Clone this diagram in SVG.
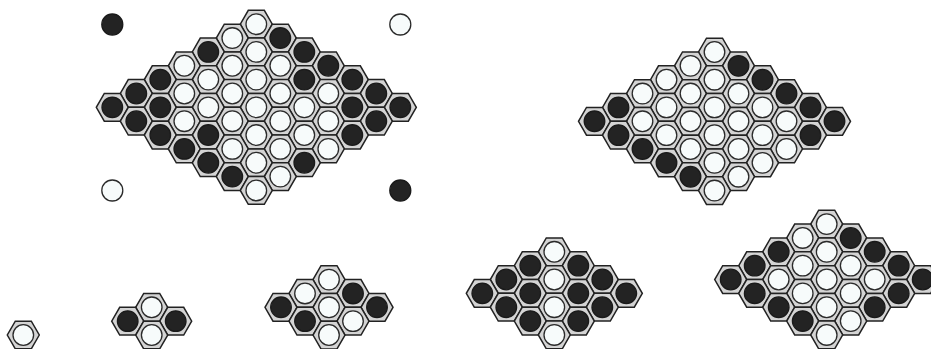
<svg xmlns="http://www.w3.org/2000/svg" xmlns:xlink="http://www.w3.org/1999/xlink" width="931" height="349" viewBox="0 0 931 349">
<style>
.hex{fill:#d4d4d4;stroke:#222;stroke-width:1.5;stroke-linejoin:miter}
.w{fill:#f7fbfb;stroke:#2a2a2a;stroke-width:1.3}
.b{fill:#232323;stroke:#1a1a1a;stroke-width:1.3}
</style>
<defs>
<g id="W"><polygon class="hex" points="16,0 8,13.86 -8,13.86 -16,0 -8,-13.86 8,-13.86"/><circle class="w" r="10.3"/></g>
<g id="B"><polygon class="hex" points="16,0 8,13.86 -8,13.86 -16,0 -8,-13.86 8,-13.86"/><circle class="b" r="10.3"/></g>
</defs>
<rect width="931" height="349" fill="#fff"/>
<g id="markers">
<g id="mark-tl"><circle class="b" cx="112.3" cy="24.5" r="10.5"/></g>
<g id="mark-tr"><circle class="w" cx="400.3" cy="24.5" r="10.5"/></g>
<g id="mark-bl"><circle class="w" cx="112.3" cy="190.5" r="10.5"/></g>
<g id="mark-br"><circle class="b" cx="400.3" cy="190.5" r="10.5"/></g>
</g>
<g id="boardA" transform="translate(256.3,24.2)">
<g id="A-0-0"><use href="#W" x="0" y="0"/></g>
<g id="A-1-0"><use href="#W" x="-24" y="13.86"/></g>
<g id="A-0-1"><use href="#B" x="24" y="13.86"/></g>
<g id="A-2-0"><use href="#B" x="-48" y="27.71"/></g>
<g id="A-1-1"><use href="#W" x="0" y="27.71"/></g>
<g id="A-0-2"><use href="#B" x="48" y="27.71"/></g>
<g id="A-3-0"><use href="#W" x="-72" y="41.57"/></g>
<g id="A-2-1"><use href="#W" x="-24" y="41.57"/></g>
<g id="A-1-2"><use href="#W" x="24" y="41.57"/></g>
<g id="A-0-3"><use href="#B" x="72" y="41.57"/></g>
<g id="A-4-0"><use href="#B" x="-96" y="55.42"/></g>
<g id="A-3-1"><use href="#W" x="-48" y="55.42"/></g>
<g id="A-2-2"><use href="#W" x="0" y="55.42"/></g>
<g id="A-1-3"><use href="#B" x="48" y="55.42"/></g>
<g id="A-0-4"><use href="#B" x="96" y="55.42"/></g>
<g id="A-5-0"><use href="#B" x="-120" y="69.28"/></g>
<g id="A-4-1"><use href="#W" x="-72" y="69.28"/></g>
<g id="A-3-2"><use href="#W" x="-24" y="69.28"/></g>
<g id="A-2-3"><use href="#W" x="24" y="69.28"/></g>
<g id="A-1-4"><use href="#W" x="72" y="69.28"/></g>
<g id="A-0-5"><use href="#B" x="120" y="69.28"/></g>
<g id="A-6-0"><use href="#B" x="-144" y="83.14"/></g>
<g id="A-5-1"><use href="#B" x="-96" y="83.14"/></g>
<g id="A-4-2"><use href="#W" x="-48" y="83.14"/></g>
<g id="A-3-3"><use href="#W" x="0" y="83.14"/></g>
<g id="A-2-4"><use href="#W" x="48" y="83.14"/></g>
<g id="A-1-5"><use href="#B" x="96" y="83.14"/></g>
<g id="A-0-6"><use href="#B" x="144" y="83.14"/></g>
<g id="A-6-1"><use href="#B" x="-120" y="96.99"/></g>
<g id="A-5-2"><use href="#W" x="-72" y="96.99"/></g>
<g id="A-4-3"><use href="#W" x="-24" y="96.99"/></g>
<g id="A-3-4"><use href="#W" x="24" y="96.99"/></g>
<g id="A-2-5"><use href="#W" x="72" y="96.99"/></g>
<g id="A-1-6"><use href="#B" x="120" y="96.99"/></g>
<g id="A-6-2"><use href="#B" x="-96" y="110.85"/></g>
<g id="A-5-3"><use href="#B" x="-48" y="110.85"/></g>
<g id="A-4-4"><use href="#W" x="0" y="110.85"/></g>
<g id="A-3-5"><use href="#W" x="48" y="110.85"/></g>
<g id="A-2-6"><use href="#B" x="96" y="110.85"/></g>
<g id="A-6-3"><use href="#B" x="-72" y="124.7"/></g>
<g id="A-5-4"><use href="#W" x="-24" y="124.7"/></g>
<g id="A-4-5"><use href="#W" x="24" y="124.7"/></g>
<g id="A-3-6"><use href="#W" x="72" y="124.7"/></g>
<g id="A-6-4"><use href="#B" x="-48" y="138.56"/></g>
<g id="A-5-5"><use href="#W" x="0" y="138.56"/></g>
<g id="A-4-6"><use href="#B" x="48" y="138.56"/></g>
<g id="A-6-5"><use href="#B" x="-24" y="152.42"/></g>
<g id="A-5-6"><use href="#W" x="24" y="152.42"/></g>
<g id="A-6-6"><use href="#W" x="0" y="166.27"/></g>
</g>
<g id="boardB" transform="translate(714.5,52)">
<g id="B-0-0"><use href="#W" x="0" y="0"/></g>
<g id="B-1-0"><use href="#W" x="-24" y="13.86"/></g>
<g id="B-0-1"><use href="#B" x="24" y="13.86"/></g>
<g id="B-2-0"><use href="#W" x="-48" y="27.71"/></g>
<g id="B-1-1"><use href="#W" x="0" y="27.71"/></g>
<g id="B-0-2"><use href="#B" x="48" y="27.71"/></g>
<g id="B-3-0"><use href="#W" x="-72" y="41.57"/></g>
<g id="B-2-1"><use href="#W" x="-24" y="41.57"/></g>
<g id="B-1-2"><use href="#W" x="24" y="41.57"/></g>
<g id="B-0-3"><use href="#B" x="72" y="41.57"/></g>
<g id="B-4-0"><use href="#B" x="-96" y="55.42"/></g>
<g id="B-3-1"><use href="#W" x="-48" y="55.42"/></g>
<g id="B-2-2"><use href="#W" x="0" y="55.42"/></g>
<g id="B-1-3"><use href="#W" x="48" y="55.42"/></g>
<g id="B-0-4"><use href="#B" x="96" y="55.42"/></g>
<g id="B-5-0"><use href="#B" x="-120" y="69.28"/></g>
<g id="B-4-1"><use href="#W" x="-72" y="69.28"/></g>
<g id="B-3-2"><use href="#W" x="-24" y="69.28"/></g>
<g id="B-2-3"><use href="#W" x="24" y="69.28"/></g>
<g id="B-1-4"><use href="#W" x="72" y="69.28"/></g>
<g id="B-0-5"><use href="#B" x="120" y="69.28"/></g>
<g id="B-5-1"><use href="#B" x="-96" y="83.14"/></g>
<g id="B-4-2"><use href="#W" x="-48" y="83.14"/></g>
<g id="B-3-3"><use href="#W" x="0" y="83.14"/></g>
<g id="B-2-4"><use href="#W" x="48" y="83.14"/></g>
<g id="B-1-5"><use href="#B" x="96" y="83.14"/></g>
<g id="B-5-2"><use href="#B" x="-72" y="96.99"/></g>
<g id="B-4-3"><use href="#W" x="-24" y="96.99"/></g>
<g id="B-3-4"><use href="#W" x="24" y="96.99"/></g>
<g id="B-2-5"><use href="#W" x="72" y="96.99"/></g>
<g id="B-5-3"><use href="#B" x="-48" y="110.85"/></g>
<g id="B-4-4"><use href="#W" x="0" y="110.85"/></g>
<g id="B-3-5"><use href="#W" x="48" y="110.85"/></g>
<g id="B-5-4"><use href="#B" x="-24" y="124.7"/></g>
<g id="B-4-5"><use href="#W" x="24" y="124.7"/></g>
<g id="B-5-5"><use href="#W" x="0" y="138.56"/></g>
</g>
<g id="boardC" transform="translate(23.3,335)">
<g id="C-0-0"><use href="#W" x="0" y="0"/></g>
</g>
<g id="boardD" transform="translate(151.7,307.3)">
<g id="D-0-0"><use href="#W" x="0" y="0"/></g>
<g id="D-1-0"><use href="#B" x="-24" y="13.86"/></g>
<g id="D-0-1"><use href="#B" x="24" y="13.86"/></g>
<g id="D-1-1"><use href="#W" x="0" y="27.71"/></g>
</g>
<g id="boardE" transform="translate(329,279.6)">
<g id="E-0-0"><use href="#W" x="0" y="0"/></g>
<g id="E-1-0"><use href="#W" x="-24" y="13.86"/></g>
<g id="E-0-1"><use href="#B" x="24" y="13.86"/></g>
<g id="E-2-0"><use href="#B" x="-48" y="27.71"/></g>
<g id="E-1-1"><use href="#W" x="0" y="27.71"/></g>
<g id="E-0-2"><use href="#B" x="48" y="27.71"/></g>
<g id="E-2-1"><use href="#B" x="-24" y="41.57"/></g>
<g id="E-1-2"><use href="#W" x="24" y="41.57"/></g>
<g id="E-2-2"><use href="#W" x="0" y="55.42"/></g>
</g>
<g id="boardF" transform="translate(554.3,251.8)">
<g id="F-0-0"><use href="#W" x="0" y="0"/></g>
<g id="F-1-0"><use href="#B" x="-24" y="13.86"/></g>
<g id="F-0-1"><use href="#B" x="24" y="13.86"/></g>
<g id="F-2-0"><use href="#B" x="-48" y="27.71"/></g>
<g id="F-1-1"><use href="#W" x="0" y="27.71"/></g>
<g id="F-0-2"><use href="#B" x="48" y="27.71"/></g>
<g id="F-3-0"><use href="#B" x="-72" y="41.57"/></g>
<g id="F-2-1"><use href="#B" x="-24" y="41.57"/></g>
<g id="F-1-2"><use href="#B" x="24" y="41.57"/></g>
<g id="F-0-3"><use href="#B" x="72" y="41.57"/></g>
<g id="F-3-1"><use href="#B" x="-48" y="55.42"/></g>
<g id="F-2-2"><use href="#W" x="0" y="55.42"/></g>
<g id="F-1-3"><use href="#B" x="48" y="55.42"/></g>
<g id="F-3-2"><use href="#B" x="-24" y="69.28"/></g>
<g id="F-2-3"><use href="#B" x="24" y="69.28"/></g>
<g id="F-3-3"><use href="#W" x="0" y="83.14"/></g>
</g>
<g id="boardG" transform="translate(826.7,224.1)">
<g id="G-0-0"><use href="#W" x="0" y="0"/></g>
<g id="G-1-0"><use href="#W" x="-24" y="13.86"/></g>
<g id="G-0-1"><use href="#B" x="24" y="13.86"/></g>
<g id="G-2-0"><use href="#B" x="-48" y="27.71"/></g>
<g id="G-1-1"><use href="#W" x="0" y="27.71"/></g>
<g id="G-0-2"><use href="#B" x="48" y="27.71"/></g>
<g id="G-3-0"><use href="#B" x="-72" y="41.57"/></g>
<g id="G-2-1"><use href="#W" x="-24" y="41.57"/></g>
<g id="G-1-2"><use href="#W" x="24" y="41.57"/></g>
<g id="G-0-3"><use href="#B" x="72" y="41.57"/></g>
<g id="G-4-0"><use href="#B" x="-96" y="55.42"/></g>
<g id="G-3-1"><use href="#W" x="-48" y="55.42"/></g>
<g id="G-2-2"><use href="#W" x="0" y="55.42"/></g>
<g id="G-1-3"><use href="#W" x="48" y="55.42"/></g>
<g id="G-0-4"><use href="#B" x="96" y="55.42"/></g>
<g id="G-4-1"><use href="#B" x="-72" y="69.28"/></g>
<g id="G-3-2"><use href="#W" x="-24" y="69.28"/></g>
<g id="G-2-3"><use href="#W" x="24" y="69.28"/></g>
<g id="G-1-4"><use href="#B" x="72" y="69.28"/></g>
<g id="G-4-2"><use href="#B" x="-48" y="83.14"/></g>
<g id="G-3-3"><use href="#W" x="0" y="83.14"/></g>
<g id="G-2-4"><use href="#B" x="48" y="83.14"/></g>
<g id="G-4-3"><use href="#B" x="-24" y="96.99"/></g>
<g id="G-3-4"><use href="#W" x="24" y="96.99"/></g>
<g id="G-4-4"><use href="#W" x="0" y="110.85"/></g>
</g>
</svg>
